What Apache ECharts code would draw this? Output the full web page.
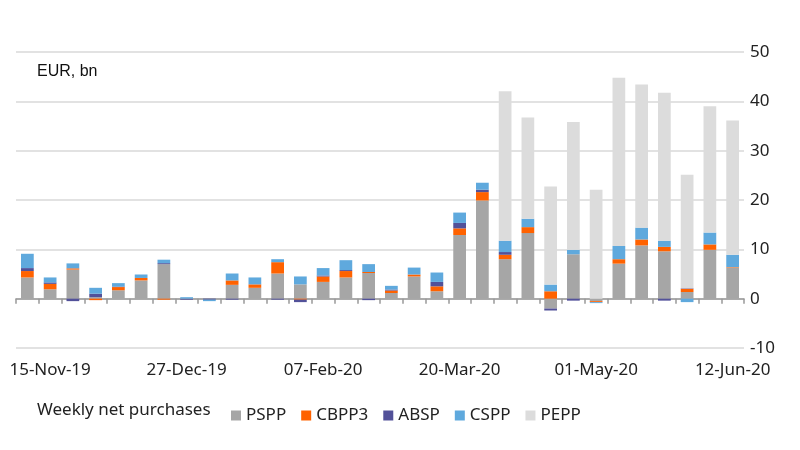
<!DOCTYPE html>
<html>
<head>
<meta charset="utf-8">
<script src="https://cdn.jsdelivr.net/npm/echarts@6/dist/echarts.min.js"></script>
<style>
  html, body { margin: 0; padding: 0; background: #fff; }
  #main { width: 800px; height: 450px; }
</style>
</head>
<body>
<div id="main"></div>
<script>
var weeks = ['08-Nov-19', '15-Nov-19', '22-Nov-19', '29-Nov-19', '06-Dec-19', '13-Dec-19', '20-Dec-19',
  '27-Dec-19', '03-Jan-20', '10-Jan-20', '17-Jan-20', '24-Jan-20', '31-Jan-20', '07-Feb-20',
  '14-Feb-20', '21-Feb-20', '28-Feb-20', '06-Mar-20', '13-Mar-20', '20-Mar-20', '27-Mar-20',
  '03-Apr-20', '10-Apr-20', '17-Apr-20', '24-Apr-20', '01-May-20', '08-May-20', '15-May-20',
  '22-May-20', '29-May-20', '05-Jun-20', '12-Jun-20'];

var pspp  = [4.3, 1.9, 5.9, 0.3, 1.7, 3.7, 7.0, 0, 0, 2.8, 2.2, 5.1, 2.9, 3.4, 4.3, 5.2,
  1.15, 4.5, 1.5, 12.9, 19.9, 8.0, 13.3, -2.0, 9.0, -0.5, 7.1, 10.8, 9.6, 1.35, 9.9, 6.3];
var cbpp3 = [1.3, 1.1, 0.25, -0.3, 0.65, 0.5, -0.2, 0, 0, 0.9, 0.7, 2.3, -0.2, 1.1, 1.3, 0.2,
  0.5, 0.4, 1.0, 1.35, 1.7, 0.9, 1.2, 1.5, 0, -0.2, 0.9, 1.2, 0.9, 0.65, 1.1, 0.1];
var absp  = [0.6, 0.3, -0.5, 0.7, 0.1, 0, 0.2, -0.2, -0.2, -0.2, 0, -0.2, -0.5, 0.2, 0.2, -0.3,
  0.2, 0, 0.9, 1.1, 0.5, 0.55, 0, -0.4, -0.4, 0, 0, 0, -0.4, 0.1, 0, 0];
var cspp  = [2.9, 1.0, 1.0, 1.2, 0.7, 0.7, 0.7, 0.3, -0.3, 1.4, 1.4, 0.6, 1.6, 1.5, 2.0, 1.6,
  0.75, 1.4, 1.9, 2.1, 1.4, 2.3, 1.7, 1.35, 0.9, -0.2, 2.7, 2.4, 1.25, -0.7, 2.4, 2.5];
var pepp  = [0, 0, 0, 0, 0, 0, 0, 0, 0, 0, 0, 0, 0, 0, 0, 0,
  0, 0, 0, 0, 0, 30.3, 20.5, 19.9, 25.9, 22.1, 34.1, 29.0, 30.0, 23.0, 25.6, 27.2];

var yTicks = [-10, 0, 10, 20, 30, 40, 50];

var chartDom = document.getElementById('main');
var myChart = echarts.init(chartDom);
var font = 'Noto Sans';

function bar(name, data, color) {
  return {
    name: name,
    type: 'bar',
    stack: 'total',
    data: data,
    barWidth: '56%',
    itemStyle: { color: color },
    emphasis: { disabled: true }
  };
}

var option = {
  animation: false,
  textStyle: { fontFamily: font },
  grid: { left: 16, right: 56, top: 52, bottom: 102 },
  graphic: [
    {
      type: 'text', left: 37, top: 64,
      style: { text: 'EUR, bn', font: '16px "Liberation Sans"', fill: '#111' }
    },
    {
      type: 'text', left: 37, top: 402,
      style: { text: 'Weekly net purchases', font: '17px "Noto Sans"', fill: '#222' }
    }
  ],
  legend: {
    left: 226,
    top: 402,
    icon: 'rect',
    itemWidth: 10,
    itemHeight: 10,
    itemGap: 15,
    textStyle: { fontSize: 17, color: '#222', fontFamily: font },
    data: ['PSPP', 'CBPP3', 'ABSP', 'CSPP', 'PEPP']
  },
  xAxis: {
    type: 'category',
    data: weeks,
    axisLine: { onZero: true, lineStyle: { color: '#999', width: 1.5 } },
    axisTick: { show: true, interval: 0, length: 5, lineStyle: { color: '#999', width: 1.5 } },
    axisLabel: {
      interval: function (i) { return i % 6 === 1; },
      margin: 14,
      fontSize: 17,
      color: '#222'
    },
    splitLine: { show: false }
  },
  yAxis: {
    type: 'value',
    position: 'right',
    min: yTicks[0],
    max: yTicks[yTicks.length - 1],
    interval: 10,
    axisLine: { show: false },
    axisTick: { show: false },
    axisLabel: { fontSize: 17, color: '#222', margin: 6 },
    splitLine: { lineStyle: { color: '#d9d9d9', width: 1.5 } }
  },
  series: [
    bar('PSPP', pspp, '#A6A6A6'),
    bar('CBPP3', cbpp3, '#FF6200'),
    bar('ABSP', absp, '#525199'),
    bar('CSPP', cspp, '#5FA9DD'),
    bar('PEPP', pepp, '#DCDCDC')
  ]
};

option && myChart.setOption(option);
</script>
</body>
</html>
